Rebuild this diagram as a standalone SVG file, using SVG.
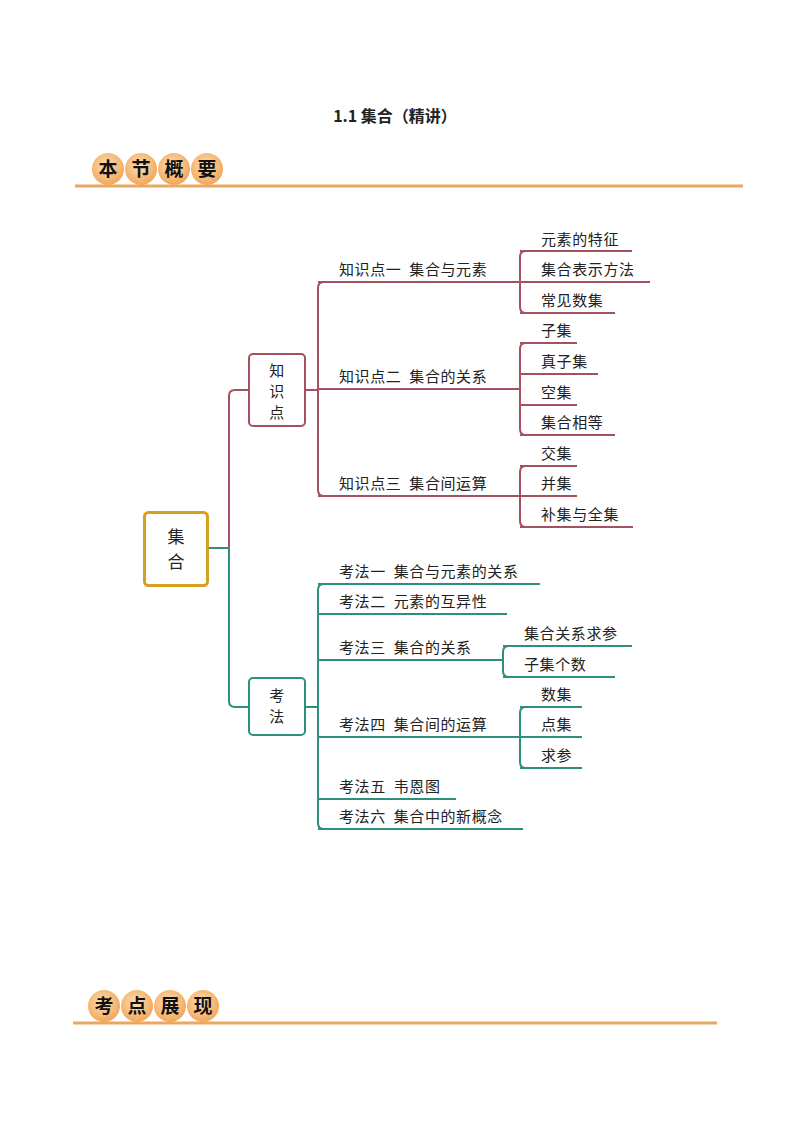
<svg xmlns="http://www.w3.org/2000/svg" width="794" height="1122" viewBox="0 0 794 1122">
<defs>
<radialGradient id="g" cx="0.45" cy="0.4" r="0.6"><stop offset="0" stop-color="#fde0b8"/><stop offset="1" stop-color="#f2a75a"/></radialGradient>
</defs>
<style>
text{font-family:"Noto Sans CJK SC","Liberation Sans",sans-serif;fill:#222}
.t{font-size:15px;white-space:pre;letter-spacing:0.6px}
.h{font-size:19px;font-weight:bold;text-anchor:middle;fill:#111}
.r{fill:none;stroke:#a5505e;stroke-width:2}
.gr{fill:none;stroke:#2f8f7f;stroke-width:2}
.c{fill:url(#g)}
</style>
<rect width="794" height="1122" fill="#fff"/>
<text x="395" y="122" text-anchor="middle" style="font-size:16px;font-weight:bold">1.1 集合（精讲）</text>
<g id="header1">
<line x1="75" y1="186" x2="743" y2="186" stroke="#e8a860" stroke-width="3"/>
<circle class="c" cx="108" cy="169" r="16"/><circle class="c" cx="141" cy="169" r="16"/><circle class="c" cx="174" cy="169" r="16"/><circle class="c" cx="207" cy="169" r="16"/>
<text class="h" x="108" y="176">本</text><text class="h" x="141" y="176">节</text><text class="h" x="174" y="176">概</text><text class="h" x="207" y="176">要</text>
</g>
<g id="header2">
<line x1="73" y1="1023" x2="717" y2="1023" stroke="#e8a860" stroke-width="3"/>
<circle class="c" cx="104" cy="1006" r="16"/><circle class="c" cx="137" cy="1006" r="16"/><circle class="c" cx="170" cy="1006" r="16"/><circle class="c" cx="203" cy="1006" r="16"/>
<text class="h" x="104" y="1013">考</text><text class="h" x="137" y="1013">点</text><text class="h" x="170" y="1013">展</text><text class="h" x="203" y="1013">现</text>
</g>
<g id="connectors">
<path class="r" d="M207 548 H229 V396 Q229 390 235 390 H249"/>
<path class="gr" d="M207 548 H229 V701 Q229 707 235 707 H249"/>
<path class="r" d="M305 390 H318 M324 282 Q318 282 318 288 V490 Q318 496 324 496"/>
<path class="r" d="M318 282 H520 M526 251 Q520 251 520 257 V307 Q520 313 526 313 M520 251 H632 M520 282 H650 M520 313 H615"/>
<path class="r" d="M318 389 H520 M526 343 Q520 343 520 349 V429 Q520 435 526 435 M520 343 H577 M520 374 H598 M520 405 H577 M520 435 H615"/>
<path class="r" d="M318 496 H520 M526 466 Q520 466 520 472 V521 Q520 527 526 527 M520 466 H577 M520 496 H577 M520 527 H633"/>
<path class="gr" d="M305 707 H318 M324 584 Q318 584 318 590 V823 Q318 829 324 829"/>
<path class="gr" d="M318 584 H540 M318 614 H507 M318 660 H503 M509 646 Q503 646 503 652 V671 Q503 677 509 677 M503 646 H632 M503 677 H615"/>
<path class="gr" d="M318 737 H520 M526 707 Q520 707 520 713 V762 Q520 768 526 768 M520 707 H582 M520 737 H582 M520 768 H582 M318 799 H456 M318 829 H523"/>
</g>
<g id="root"><rect x="144.5" y="512.5" width="63" height="73" rx="4" fill="#fff" stroke="#d4a020" stroke-width="3"/>
<text x="176" y="543" text-anchor="middle" style="font-size:17px">集</text><text x="176" y="568" text-anchor="middle" style="font-size:17px">合</text></g>
<g id="zsd"><rect x="249" y="354" width="56" height="72" rx="4" fill="#fff" stroke="#a5505e" stroke-width="2"/>
<text class="t" x="277" y="376" text-anchor="middle">知</text><text class="t" x="277" y="397" text-anchor="middle">识</text><text class="t" x="277" y="418" text-anchor="middle">点</text></g>
<g id="kf"><rect x="249" y="678" width="56" height="57" rx="4" fill="#fff" stroke="#2f8f7f" stroke-width="2"/>
<text class="t" x="277" y="701" text-anchor="middle">考</text><text class="t" x="277" y="722" text-anchor="middle">法</text></g>
<g id="labels">
<text class="t" x="339" y="275">知识点一  集合与元素</text>
<text class="t" x="541" y="245">元素的特征</text><text class="t" x="541" y="275">集合表示方法</text><text class="t" x="541" y="306">常见数集</text>
<text class="t" x="339" y="382">知识点二  集合的关系</text>
<text class="t" x="541" y="336">子集</text><text class="t" x="541" y="367">真子集</text><text class="t" x="541" y="398">空集</text><text class="t" x="541" y="428">集合相等</text>
<text class="t" x="339" y="489">知识点三  集合间运算</text>
<text class="t" x="541" y="459">交集</text><text class="t" x="541" y="489">并集</text><text class="t" x="541" y="520">补集与全集</text>
<text class="t" x="339" y="577">考法一  集合与元素的关系</text>
<text class="t" x="339" y="607">考法二  元素的互异性</text>
<text class="t" x="339" y="653">考法三  集合的关系</text>
<text class="t" x="524" y="639">集合关系求参</text><text class="t" x="524" y="670">子集个数</text>
<text class="t" x="339" y="730">考法四  集合间的运算</text>
<text class="t" x="541" y="700">数集</text><text class="t" x="541" y="730">点集</text><text class="t" x="541" y="761">求参</text>
<text class="t" x="339" y="792">考法五  韦恩图</text>
<text class="t" x="339" y="822">考法六  集合中的新概念</text>
</g>
</svg>
